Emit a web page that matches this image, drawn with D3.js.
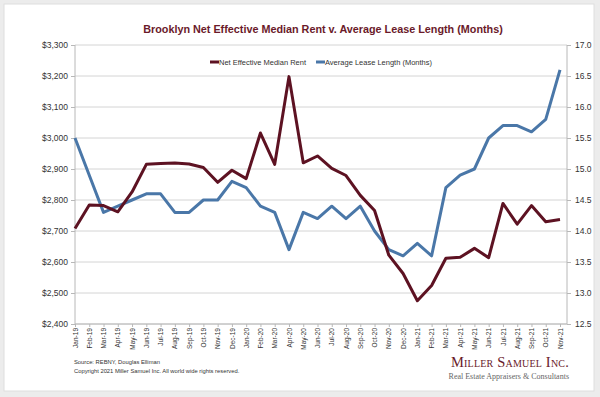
<!DOCTYPE html>
<html>
<head>
<meta charset="utf-8">
<script src="https://cdn.jsdelivr.net/npm/d3@7"></script>
<style>
  html, body { margin: 0; padding: 0; background: #ececec; }
  svg { display: block; font-family: "Liberation Sans", Arial, sans-serif; }
</style>
</head>
<body>
<svg id="chart" width="600" height="397"></svg>
<script>
const months = ["Jan-19","Feb-19","Mar-19","Apr-19","May-19","Jun-19","Jul-19","Aug-19","Sep-19","Oct-19","Nov-19","Dec-19",
  "Jan-20","Feb-20","Mar-20","Apr-20","May-20","Jun-20","Jul-20","Aug-20","Sep-20","Oct-20","Nov-20","Dec-20",
  "Jan-21","Feb-21","Mar-21","Apr-21","May-21","Jun-21","Jul-21","Aug-21","Sep-21","Oct-21","Nov-21"];

const rent = [2708, 2784, 2782, 2762, 2826, 2915, 2918, 2919, 2916, 2905, 2857, 2896,
  2869, 3016, 2915, 3198, 2920, 2942, 2902, 2879, 2815, 2766, 2622, 2563,
  2475, 2524, 2612, 2615, 2644, 2614, 2789, 2722, 2782, 2730, 2737];

const lease = [15.5, 14.9, 14.3, 14.4, 14.5, 14.6, 14.6, 14.3, 14.3, 14.5, 14.5, 14.8,
  14.7, 14.4, 14.3, 13.7, 14.3, 14.2, 14.4, 14.2, 14.4, 14.0, 13.7, 13.6,
  13.8, 13.6, 14.7, 14.9, 15.0, 15.5, 15.7, 15.7, 15.6, 15.8, 16.6];

const rentTicks = d3.range(2400, 3301, 100);
const leaseTicks = d3.range(12.5, 17.01, 0.5);

const svg = d3.select("#chart");
const rentColor = "#5d1222";
const leaseColor = "#4a77a8";
const gridColor = "#d4d4d4";

// white panel
svg.append("rect")
    .attr("x", 4).attr("y", 4)
    .attr("width", 590).attr("height", 387)
    .attr("fill", "#fff")
    .attr("stroke", "#dedede");

const plot = {left: 75, right: 567, top: 45, bottom: 324};

const x = d3.scalePoint()
    .domain(months)
    .range([plot.left, 560]);

const yRent = d3.scaleLinear().domain([2400, 3300]).range([plot.bottom, plot.top]);
const yLease = d3.scaleLinear().domain([12.5, 17]).range([plot.bottom, plot.top]);

// gridlines
svg.append("g")
    .selectAll("line")
    .data(rentTicks)
    .join("line")
    .attr("x1", plot.left).attr("x2", plot.right)
    .attr("y1", d => yRent(d)).attr("y2", d => yRent(d))
    .attr("stroke", gridColor)
    .attr("stroke-width", 1);

// left axis
const leftAxis = svg.append("g")
    .attr("transform", `translate(${plot.left},0)`)
    .call(d3.axisLeft(yRent).tickValues(rentTicks).tickSize(4).tickPadding(3).tickFormat(d3.format("$,.0f")));

// right axis
const rightAxis = svg.append("g")
    .attr("transform", `translate(${plot.right},0)`)
    .call(d3.axisRight(yLease).tickValues(leaseTicks).tickSize(4).tickPadding(4).tickFormat(d3.format(".1f")));

// bottom axis
const bottomAxis = svg.append("g")
    .attr("transform", `translate(0,${plot.bottom})`)
    .call(d3.axisBottom(x).tickSize(3).tickPadding(2));

bottomAxis.selectAll("text")
    .attr("transform", "rotate(-90)")
    .attr("text-anchor", "end")
    .attr("x", -4)
    .attr("y", 0)
    .attr("dy", "0.32em");

[leftAxis, rightAxis, bottomAxis].forEach(a => {
    a.select(".domain").attr("stroke", "#b8b8b8");
    a.selectAll(".tick line").attr("stroke", "#b8b8b8");
    a.selectAll("text").attr("fill", "#333").style("font-size", "8.5px");
});
bottomAxis.selectAll("text").style("font-size", "6.5px");
leftAxis.select(".domain").attr("d", `M0,${plot.top}V${plot.bottom}`);
rightAxis.select(".domain").attr("d", `M0,${plot.top}V${plot.bottom}`);
bottomAxis.select(".domain").attr("d", `M${plot.left},0H${plot.right}`);

// lines
const rentLine = d3.line()
    .x((d, i) => x(months[i]))
    .y(d => yRent(d));

const leaseLine = d3.line()
    .x((d, i) => x(months[i]))
    .y(d => yLease(d));

svg.append("path")
    .datum(lease)
    .attr("d", leaseLine)
    .attr("fill", "none")
    .attr("stroke", leaseColor)
    .attr("stroke-width", 3)
    .attr("stroke-linejoin", "round");

svg.append("path")
    .datum(rent)
    .attr("d", rentLine)
    .attr("fill", "none")
    .attr("stroke", rentColor)
    .attr("stroke-width", 3)
    .attr("stroke-linejoin", "round");

// title
svg.append("text")
    .attr("x", 323)
    .attr("y", 33)
    .attr("text-anchor", "middle")
    .style("font-size", "10.8px")
    .style("font-weight", "bold")
    .style("fill", "#6a1a2a")
    .text("Brooklyn Net Effective Median Rent v. Average Lease Length (Months)");

// legend
const legendItems = [
    {label: "Net Effective Median Rent", color: rentColor, x: 210},
    {label: "Average Lease Length (Months)", color: leaseColor, x: 316}
];
const legend = svg.append("g").attr("transform", "translate(0,62)");
legend.selectAll("line")
    .data(legendItems)
    .join("line")
    .attr("x1", d => d.x).attr("x2", d => d.x + 9)
    .attr("y1", 0).attr("y2", 0)
    .attr("stroke", d => d.color)
    .attr("stroke-width", 3);
legend.selectAll("text")
    .data(legendItems)
    .join("text")
    .attr("x", d => d.x + 9)
    .attr("y", 2.5)
    .style("font-size", "7.5px")
    .style("fill", "#333")
    .text(d => d.label);

// footer
svg.append("text")
    .attr("x", 74).attr("y", 364)
    .style("font-size", "5.8px")
    .style("fill", "#333")
    .text("Source: REBNY, Douglas Elliman");

svg.append("text")
    .attr("x", 74).attr("y", 373)
    .style("font-size", "5.8px")
    .style("fill", "#333")
    .text("Copyright 2021 Miller Samuel Inc.  All world wide rights reserved.");

svg.append("text")
    .attr("x", 569).attr("y", 367)
    .attr("text-anchor", "end")
    .style("font-family", "'Liberation Serif', 'DejaVu Serif', serif")
    .style("font-variant", "small-caps")
    .style("font-size", "14.5px")
    .style("letter-spacing", "0.2px")
    .style("fill", "#6a1a2a")
    .text("Miller Samuel Inc.");

svg.append("text")
    .attr("x", 569).attr("y", 379)
    .attr("text-anchor", "end")
    .style("font-family", "'Liberation Serif', 'DejaVu Serif', serif")
    .style("font-size", "8px")
    .style("fill", "#666")
    .text("Real Estate Appraisers & Consultants");
</script>
</body>
</html>
